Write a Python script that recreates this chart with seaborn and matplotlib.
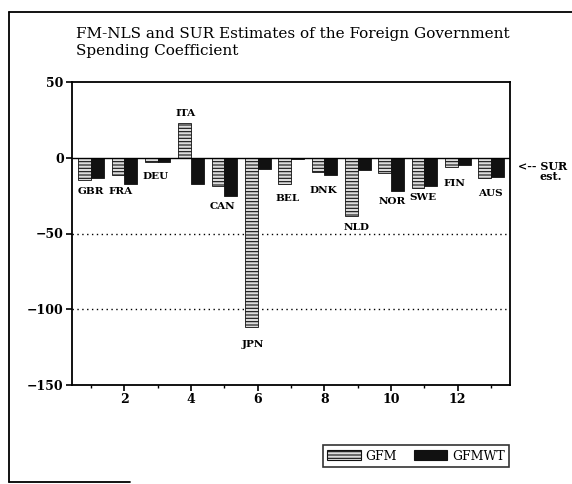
import matplotlib
matplotlib.use('Agg')
import matplotlib.pyplot as plt
import seaborn as sns
import pandas as pd
from matplotlib.patches import Patch
from matplotlib.lines import Line2D

# values
countries = ['GBR', 'FRA', 'DEU', 'ITA', 'CAN', 'JPN', 'BEL',
             'DNK', 'NLD', 'NOR', 'SWE', 'FIN', 'AUS']
idx = list(range(1, 14))
gfm = [-15, -11.6, -2.5, 23, -18.6, -112, -17.5, -9.6, -38.6, -10.3, -19.7, -6, -13.6]
gfmwt = [-13.6, -17, -3, -17.5, -25.5, -7.5, -0.5, -11.4, -8, -22, -18.6, -4.8, -13]

# where the country names sit (layout only)
lab_x = [1.0, 1.9, 2.95, 3.85, 4.93, 5.85, 6.9, 7.97, 8.98, 10.05, 10.96, 11.9, 12.97]
lab_y = [-22.4, -22.4, -12.5, 29, -32, -123, -26.8, -21.7, -46.3, -28.7, -26.5, -16.9, -23.5]

df = pd.DataFrame({
    'idx': idx * 2,
    'value': gfm + gfmwt,
    'series': ['GFM'] * 13 + ['GFMWT'] * 13,
})

sns.set_theme(style='white')
plt.rcParams['font.family'] = ['DejaVu Serif']
plt.rcParams['hatch.linewidth'] = 0.8
plt.rcParams['text.color'] = 'black'
plt.rcParams['xtick.color'] = 'black'
plt.rcParams['ytick.color'] = 'black'

fig = plt.figure(figsize=(5.72, 4.84), dpi=100)
ax = fig.add_axes([72 / 572, 1 - 385 / 484, 438 / 572, 303 / 484])

sns.barplot(data=df, x='idx', y='value', hue='series', native_scale=True,
            width=0.77, palette=['#dcdcdc', '#111111'], edgecolor='#111111',
            linewidth=0.6, legend=False, ax=ax)

# hatch the GFM bars with horizontal lines
for p in ax.patches[:13]:
    p.set_hatch('-----')

ax.set_xlim(0.43, 13.57)
ax.set_ylim(-150, 50)
ax.set_yticks([50, 0, -50, -100, -150])
ax.set_xticks([2, 4, 6, 8, 10, 12])
ax.set_xticks(range(1, 14, 2), minor=True)
ax.set_xlabel('')
ax.set_ylabel('')
ax.tick_params(axis='both', which='major', direction='out', length=4, width=1.2,
               colors='black', labelsize=9, pad=2, bottom=True, left=True)
ax.tick_params(axis='x', which='minor', direction='out', length=2.5, width=1,
               bottom=True)
for t in ax.get_xticklabels() + ax.get_yticklabels():
    t.set_fontweight('bold')
for s in ax.spines.values():
    s.set_color('black')
    s.set_linewidth(1.3)

ax.axhline(0, color='black', lw=1.0, zorder=1)
for gy in [-50, -100]:
    ax.axhline(gy, color='black', lw=1.0, ls=(0, (1, 2.5)), zorder=0)

for name, x, y in zip(countries, lab_x, lab_y):
    ax.text(x, y, name, ha='center', va='center', fontsize=7.5, fontweight='bold')

fig.text(518 / 572, 1 - 166 / 484, '<-- SUR', fontsize=8, fontweight='bold',
         ha='left', va='center')
fig.text(562 / 572, 1 - 177 / 484, 'est.', fontsize=8, fontweight='bold',
         ha='right', va='center')

fig.text(76 / 572, 1 - 27 / 484,
         'FM-NLS and SUR Estimates of the Foreign Government\nSpending Coefficient',
         fontsize=11, ha='left', va='top', linespacing=1.25)

handles = [Patch(facecolor='#dcdcdc', edgecolor='#111111', hatch='-----', lw=0.8),
           Patch(facecolor='#111111', edgecolor='#111111', lw=0.8)]
leg = fig.legend(handles, ['GFM', 'GFMWT'], loc='center',
                 bbox_to_anchor=(416 / 572, 1 - 456 / 484), ncol=2,
                 fontsize=9, frameon=True, fancybox=False, handlelength=2.7,
                 handleheight=0.9, columnspacing=1.3, handletextpad=0.4,
                 borderpad=0.35)
leg.get_frame().set_edgecolor('black')
leg.get_frame().set_linewidth(1.2)

# outer frame of the scanned page
fig.add_artist(Line2D([9 / 572, 9 / 572], [1 - 12 / 484, 1 - 482 / 484],
                      transform=fig.transFigure, color='black', lw=1.3))
fig.add_artist(Line2D([9 / 572, 1.0], [1 - 12 / 484, 1 - 12 / 484],
                      transform=fig.transFigure, color='black', lw=1.3))
fig.add_artist(Line2D([9 / 572, 130 / 572], [1 - 482 / 484, 1 - 482 / 484],
                      transform=fig.transFigure, color='black', lw=1.3))

fig.savefig('out.png', dpi=100)
